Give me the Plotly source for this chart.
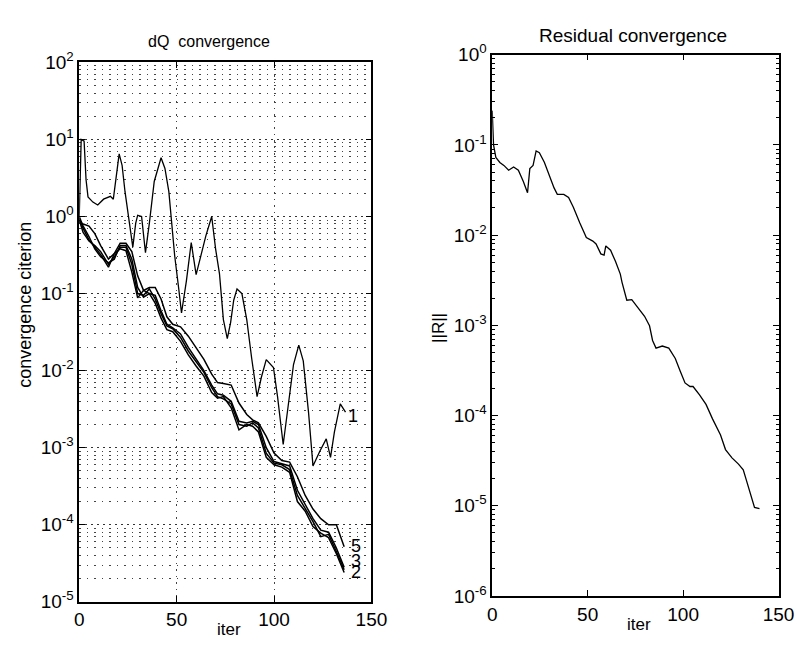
import plotly.graph_objects as go

# ---------------- data ----------------
# dQ convergence, curve 1 (oscillating)
c1_iter = [0, 1, 2.5, 3.5, 4.5, 7, 9.5, 12.5, 16, 17.5, 20.5, 22, 23.5, 25, 27.5, 29, 30, 32, 34, 36,
           38.5, 42, 44, 46, 47.5, 49, 51, 52.5, 55, 57.5, 60, 62.5, 65, 68, 70, 72, 74, 76, 77.7, 79.3,
           81, 83.5, 86, 88.5, 91.3, 93.5, 96, 99.7, 101.8, 104.7, 107.7, 110, 112.7, 115, 117.7, 120,
           123.5, 126.8, 129, 131, 134, 136.7]
c1_val = [1.0, 10.0, 9.5, 3.0, 1.8, 1.54, 1.41, 1.68, 1.83, 1.68, 6.5, 4.6, 2.1, 1.1, 0.4, 0.82, 1.04, 1.0, 0.34, 0.82,
          2.85, 5.8, 4.2, 2.1, 0.82, 0.31, 0.12, 0.056, 0.145, 0.46, 0.176, 0.31, 0.56, 1.0, 0.38, 0.18, 0.046, 0.026, 0.042, 0.082,
          0.115, 0.1, 0.046, 0.0146, 0.0046, 0.0082, 0.0139, 0.011, 0.0046, 0.0011, 0.0046, 0.012, 0.0214, 0.0134, 0.0029, 0.00058,
          0.0009, 0.0013, 0.00075, 0.0016, 0.0037, 0.0029]

# dQ convergence, curves 2-5 (bundle)
bundle_iter = [0, 2, 5, 8, 11, 15, 18, 21, 24, 27, 30, 33, 36, 39, 42, 45, 48, 52, 56, 60,
               64, 68, 71, 74, 78, 82, 86, 89, 92, 96, 100, 104, 108, 112, 116, 120, 124, 128, 132, 136]
c2_val = [0.95, 0.7, 0.5, 0.4, 0.32, 0.22, 0.33, 0.38, 0.36, 0.19, 0.088, 0.11, 0.1, 0.075, 0.048, 0.034, 0.032, 0.024, 0.016, 0.0115,
          0.0085, 0.0052, 0.0044, 0.0046, 0.0033, 0.0017, 0.002, 0.0019, 0.0016, 0.00075, 0.0006, 0.00056, 0.00048, 0.0002, 0.00015,
          0.000095, 0.000078, 0.000068, 0.000042, 0.000024]
c3_val = [0.9, 0.62, 0.48, 0.42, 0.35, 0.24, 0.3, 0.4, 0.4, 0.24, 0.1, 0.095, 0.115, 0.085, 0.055, 0.038, 0.035, 0.027, 0.018, 0.013,
          0.0095, 0.006, 0.0046, 0.0043, 0.0037, 0.002, 0.0019, 0.0021, 0.0018, 0.00085, 0.00063, 0.0006, 0.00052, 0.00024, 0.00016,
          0.00011, 0.00007, 0.000075, 0.000045, 0.000026]
c4_val = [1.0, 0.75, 0.55, 0.38, 0.3, 0.25, 0.28, 0.42, 0.42, 0.28, 0.12, 0.09, 0.1, 0.095, 0.06, 0.04, 0.036, 0.03, 0.02, 0.014,
          0.01, 0.0065, 0.005, 0.0048, 0.004, 0.0022, 0.0021, 0.0022, 0.002, 0.001, 0.00066, 0.00062, 0.00058, 0.00028, 0.00018,
          0.00012, 0.000085, 0.00008, 0.00005, 0.000028]
c5_val = [0.85, 0.8, 0.75, 0.6, 0.42, 0.28, 0.33, 0.45, 0.45, 0.35, 0.17, 0.11, 0.12, 0.12, 0.085, 0.05, 0.04, 0.037, 0.028, 0.02,
          0.014, 0.009, 0.007, 0.0068, 0.0065, 0.0038, 0.0027, 0.0023, 0.0021, 0.0014, 0.00085, 0.00068, 0.00065, 0.00042, 0.00024,
          0.00016, 0.00012, 0.0001, 0.0001, 0.000052]

# Residual convergence
res_iter = [0, 0.7, 1.9, 4, 6.1, 8.6, 11.2, 13.7, 16.3, 18.5, 19.7, 21.4, 23.0, 24.7, 27.3, 29.8, 32.4, 34.1, 37.5, 40,
            42.5, 45.9, 49.3, 52.7, 54.4, 56.9, 58.6, 59.5, 62.0, 64.6, 67.1, 68.0, 70.5, 73.1, 76.4, 79.8, 82.4, 84.0,
            85.8, 89.1, 92.5, 95.9, 98.5, 101.0, 103.6, 105.2, 108.6, 112.0, 115.4, 118.8, 119.6, 122.2, 125.6, 129.0,
            131.5, 133.2, 135.7, 137.4, 140.0]
res_val = [0.24, 0.1, 0.0727, 0.064, 0.0593, 0.0524, 0.0569, 0.0524, 0.0394, 0.0295, 0.0546, 0.0593, 0.0857, 0.0822, 0.0643,
           0.0463, 0.0334, 0.0283, 0.0283, 0.0261, 0.0204, 0.0136, 0.0094, 0.0086, 0.0080, 0.0062, 0.0060, 0.0076, 0.0068,
           0.0051, 0.0037, 0.0030, 0.0019, 0.00193, 0.00155, 0.00126, 0.00099, 0.00068, 0.00056, 0.00059, 0.00056, 0.00043,
           0.00031, 0.00023, 0.00021, 0.00021, 0.00017, 0.000133, 0.000092, 0.000066, 0.000061, 0.000042, 0.000034,
           0.000029, 0.000025, 0.000019, 0.0000129, 0.0000096, 0.0000093]

x_ticks = [0, 50, 100, 150]
x_ticktext = ["0", "50", "100", "150"]
y1_exps = [-5, -4, -3, -2, -1, 0, 1, 2]
y2_exps = [-6, -5, -4, -3, -2, -1, 0]
y1_ticktext = ["10<sup>%d</sup>" % e for e in y1_exps]
y2_ticktext = ["10<sup>%d</sup>" % e for e in y2_exps]
curve_labels = ["1", "5", "3", "2"]

# ---------------- figure ----------------
W, H = 808, 652
FONT = "Liberation Sans, Arial, sans-serif"
fig = go.Figure()

line_style = dict(color="black", width=1.3)
fig.add_trace(go.Scatter(x=c1_iter, y=c1_val, mode="lines", line=line_style, xaxis="x", yaxis="y", showlegend=False))
for vals in (c2_val, c3_val, c4_val, c5_val):
    fig.add_trace(go.Scatter(x=bundle_iter, y=vals, mode="lines", line=dict(color="black", width=1.5),
                             xaxis="x", yaxis="y", showlegend=False))
fig.add_trace(go.Scatter(x=res_iter, y=res_val, mode="lines", line=line_style, xaxis="x2", yaxis="y2", showlegend=False))

minor1 = [m * 10.0 ** e for e in y1_exps[:-1] for m in range(2, 10)]
minor2 = [m * 10.0 ** e for e in y2_exps[:-1] for m in range(2, 10)]

tickfont = dict(family=FONT, size=19, color="black")
common_x = dict(range=[0, 150], tickmode="array", tickvals=x_ticks, ticktext=x_ticktext, ticks="inside", ticklen=6,
                tickcolor="black", showline=True, linecolor="black", linewidth=1.5, mirror="ticks",
                zeroline=False, tickfont=tickfont)
common_y = dict(type="log", ticks="inside", ticklen=6, tickcolor="black", showline=True, linecolor="black",
                linewidth=1.5, mirror="ticks", zeroline=False, tickfont=tickfont, tickmode="array")

fig.update_layout(
    width=W, height=H, margin=dict(l=0, r=0, t=0, b=0),
    paper_bgcolor="white", plot_bgcolor="white",
    xaxis=dict(domain=[68 / W, 368 / W], anchor="y", showgrid=True, gridcolor="#444",
               griddash="1.5px,5px", gridwidth=1, **common_x),
    yaxis=dict(domain=[1 - 603 / H, 1 - 43 / H], anchor="x", range=[-5, 2],
               tickvals=[10.0 ** e for e in y1_exps], ticktext=y1_ticktext,
               showgrid=True, gridcolor="#333", griddash="2px,4px", gridwidth=1,
               minor=dict(tickmode="array", tickvals=minor1, ticks="", showgrid=True,
                          gridcolor="#444", griddash="1.5px,6px", gridwidth=1),
               **common_y),
    xaxis2=dict(domain=[492 / W, 786 / W], anchor="y2", showgrid=False, **common_x),
    yaxis2=dict(domain=[1 - 597 / H, 1 - 35 / H], anchor="x2", range=[-6, 0],
                tickvals=[10.0 ** e for e in y2_exps], ticktext=y2_ticktext, showgrid=False,
                minor=dict(tickmode="array", tickvals=minor2, ticks="inside", ticklen=3, tickcolor="black",
                           showgrid=False),
                **common_y),
)

ann_font = dict(family=FONT, color="black")
anns = [
    dict(text="dQ  convergence", x=201 / W, y=1 - 21 / H, size=16),
    dict(text="Residual convergence", x=637 / W, y=1 - 15 / H, size=19),
    dict(text="iter", x=222 / W, y=1 - 632 / H, size=17),
    dict(text="iter", x=643 / W, y=1 - 627 / H, size=17),
]
for a in anns:
    fig.add_annotation(text=a["text"], x=a["x"], y=a["y"], xref="paper", yref="paper", showarrow=False,
                       xanchor="center", yanchor="middle", font=dict(size=a["size"], **ann_font))
fig.add_annotation(text="convergence citerion", x=12 / W, y=1 - 295 / H, xref="paper", yref="paper",
                   showarrow=False, textangle=-90, xanchor="center", yanchor="middle", font=dict(size=18, **ann_font))
fig.add_annotation(text="||R||", x=437 / W, y=1 - 319 / H, xref="paper", yref="paper",
                   showarrow=False, textangle=-90, xanchor="center", yanchor="middle", font=dict(size=17, **ann_font))

label_pos = [(137, -2.59), (138.5, -4.27), (138.5, -4.47), (138.5, -4.61)]
for txt, (lx, ly) in zip(curve_labels, label_pos):
    fig.add_annotation(text=txt, x=lx, y=ly, xref="x", yref="y", showarrow=False, xanchor="left",
                       yanchor="middle", font=dict(size=18, **ann_font))

fig.write_html("out.html")
